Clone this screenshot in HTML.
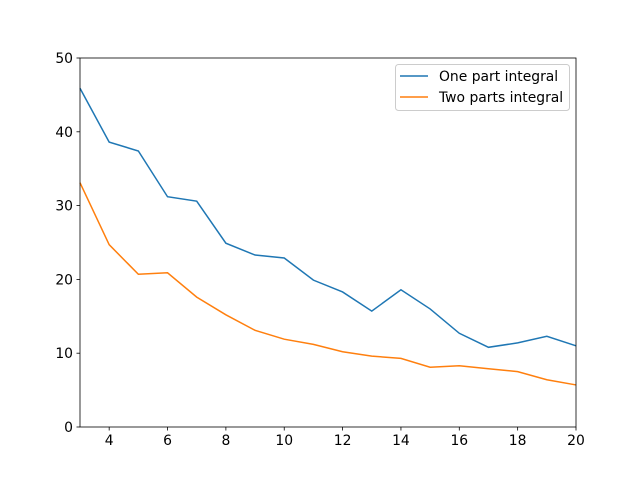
<!DOCTYPE html>
<html><head><meta charset="utf-8"><style>body{margin:0;background:#fff}svg{display:block}text{font-family:"DejaVu Sans","Liberation Sans",sans-serif;font-size:13.9px;fill:#000}</style></head>
<body>
<svg id="chart" width="640" height="480" viewBox="0 0 640 480">
<rect x="0" y="0" width="640" height="480" fill="#fff"/>
<g id="plot"></g>
</svg>
<script>
const xs = [3,4,5,6,7,8,9,10,11,12,13,14,15,16,17,18,19,20];
const onePart = [45.9,38.6,37.4,31.2,30.6,24.9,23.3,22.9,19.9,18.3,15.7,18.6,16.0,12.7,10.8,11.4,12.3,11.0];
const twoParts = [33.1,24.7,20.7,20.9,17.6,15.2,13.1,11.9,11.2,10.2,9.6,9.3,8.1,8.3,7.9,7.5,6.4,5.7];
const xTicks = [4,6,8,10,12,14,16,18,20];
const yTicks = [0,10,20,30,40,50];
const L=80,R=576,T=58,B=427;
const xS=v=>L+(v-3)/(20-3)*(R-L);
const yS=v=>B-(v/50)*(B-T);
const ns="http://www.w3.org/2000/svg";
const g=document.getElementById('plot');
function mk(t,a){const e=document.createElementNS(ns,t);for(const k in a)e.setAttribute(k,a[k]);g.appendChild(e);return e;}
function series(vals,color,name){
  const p=mk('polyline',{points:xs.map((x,i)=>xS(x)+','+yS(vals[i])).join(' '),fill:'none',stroke:color,'stroke-width':1.5});
  
  
}
series(onePart,'#1f77b4','one-part-integral-line');
series(twoParts,'#ff7f0e','two-parts-integral-line');
const frame=mk('rect',{x:L,y:T,width:R-L,height:B-T,fill:'none',stroke:'#000','stroke-width':0.8});


xTicks.forEach(v=>{const x=xS(v);
  const t=mk('line',{x1:x,x2:x,y1:B,y2:B+3.5,stroke:'#000','stroke-width':0.8});
  
  
  const l=mk('text',{x:x,y:B+18,'text-anchor':'middle'});l.textContent=v;
  
  
});
yTicks.forEach(v=>{const y=yS(v);
  const t=mk('line',{x1:L-3.5,x2:L,y1:y,y2:y,stroke:'#000','stroke-width':0.8});
  
  
  const l=mk('text',{x:L-7,y:y+5,'text-anchor':'end'});l.textContent=v;
  
  
});
</script>
<svg style="position:absolute;left:0;top:0" width="640" height="480">
<rect x="395.5" y="64.5" width="174" height="46" rx="3" fill="#fff" fill-opacity="0.8" stroke="#ccc"/>
<line x1="400" x2="428" y1="76" y2="76" stroke="#1f77b4" stroke-width="1.5"/>
<text x="439" y="81">One part integral</text>
<line x1="400" x2="428" y1="97" y2="97" stroke="#ff7f0e" stroke-width="1.5"/>
<text x="439" y="102">Two parts integral</text>
</svg>
</body></html>
